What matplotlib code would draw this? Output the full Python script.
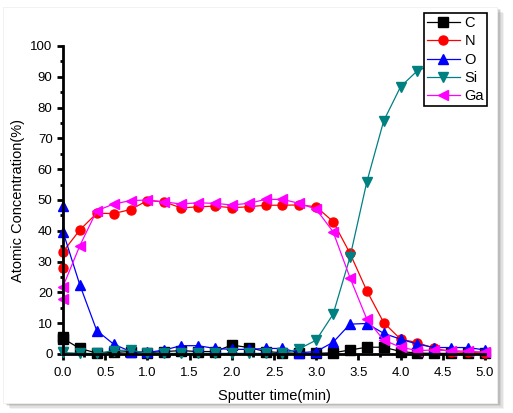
import matplotlib
matplotlib.use("Agg")
import matplotlib.pyplot as plt
from matplotlib.patches import Rectangle

plt.rcParams['font.family'] = ['Liberation Sans', 'DejaVu Sans']

nan = float('nan')

# sputter time (min); the first two readings are both at t = 0
time = [0.0, 0.0, 0.2, 0.4, 0.6, 0.8, 1.0, 1.2, 1.4, 1.6, 1.8, 2.0, 2.2, 2.4,
        2.6, 2.8, 3.0, 3.2, 3.4, 3.6, 3.8, 4.0, 4.2, 4.4, 4.6, 4.8, 5.0]

C = [5.6, 5.0, 1.8, 0.3, 0.5, 0.8, 0.4, 0.8, 1.1, 0.8, 0.8, 2.9, 2.1, 0.8,
     0.4, 0.2, 0.2, 0.4, 1.3, 2.2, 2.2, 0.8, 0.3, 0.2, 0.2, 0.2, 0.2]
N = [27.8, 33.2, 40.3, 45.7, 45.6, 46.9, 49.8, 49.4, 47.4, 47.8, 48.0, 47.5,
     47.8, 48.3, 48.3, 48.4, 47.8, 43.0, 32.7, 20.5, 10.2, 4.8, 3.7, 1.8,
     0.8, 0.5, 0.3]
O = [48.0, 39.7, 22.4, 7.6, 3.2, 0.8, 0.5, 1.3, 2.7, 2.7, 1.8, 1.5, 1.5, 1.8,
     1.8, 0.4, 0.8, 3.8, 9.7, 9.9, 6.7, 4.8, 3.2, 2.1, 2.1, 2.1, 1.3]
# Si beyond 4.2 min sits behind the legend
Si = [0.5, 0.5, 0.2, 0.2, 1.1, 1.3, 0.2, 0.2, 0.2, 0.2, 0.2, 0.2, 0.2, 0.2,
      0.2, 1.7, 4.5, 12.9, 31.4, 55.9, 75.7, 86.8, 92.0, 94.0, 95.0, 95.5, nan]
Ga = [17.9, 21.9, 35.2, 46.5, 48.7, 49.8, 50.0, 49.4, 48.7, 49.1, 48.9, 48.4,
      48.9, 50.2, 50.2, 48.9, 47.0, 39.7, 24.8, 11.3, 4.5, 2.2, 1.1, 1.3, 1.1,
      0.9, 0.6]

series = [("C", C, 's', 'black'),
          ("N", N, 'o', 'red'),
          ("O", O, '^', 'blue'),
          ("Si", Si, 'v', '#008080'),
          ("Ga", Ga, '<', 'magenta')]

fig = plt.figure(figsize=(5.13, 4.13), dpi=100)
fig.patch.set_facecolor('white')

# card with soft shadow
W, H = 513.0, 413.0
for i, a in enumerate([0.10, 0.14, 0.18, 0.24]):
    off = 6 - i * 1.3
    fig.patches.append(Rectangle(((4 + off) / W, (10 - off) / H), 494 / W, 396 / H,
                                 transform=fig.transFigure, facecolor='#808080',
                                 alpha=a, edgecolor='none', zorder=-3))
fig.patches.append(Rectangle((3 / W, 10 / H), 494 / W, 396 / H,
                             transform=fig.transFigure, facecolor='white',
                             edgecolor='#f0f0f0', lw=0.6, zorder=-2))

ax = fig.add_axes([63 / W, 1 - 354 / H, 422 / W, 308 / H])
ax.set_facecolor('none')

for name, vals, mk, col in series:
    ax.plot(time, vals, color=col, marker=mk, markersize=6.5, lw=0.9,
            label=name, clip_on=False)

ax.set_xlim(0, 5)
ax.set_ylim(0, 100)
ax.set_xticks([0.0, 0.5, 1.0, 1.5, 2.0, 2.5, 3.0, 3.5, 4.0, 4.5, 5.0])
ax.set_xticks([0.25 + 0.5 * i for i in range(10)], minor=True)
ax.set_yticks(range(0, 101, 10))
ax.set_yticks(range(5, 100, 10), minor=True)
ax.xaxis.set_major_formatter(plt.FormatStrFormatter('%.1f'))

for s in ['top', 'right']:
    ax.spines[s].set_visible(False)
for s in ['left', 'bottom']:
    ax.spines[s].set_linewidth(2)
ax.tick_params(which='major', direction='out', length=4.5, width=2,
               labelsize=9.5, pad=3)
ax.tick_params(axis='x', which='major', pad=5)
ax.tick_params(which='minor', direction='out', length=2.5, width=2)

ax.set_xlabel('Sputter time(min)', fontsize=10.5, labelpad=7)
ax.set_ylabel('Atomic Concentration(%)', fontsize=10.5, labelpad=4)

leg = ax.legend(loc='upper right', bbox_to_anchor=(487 / W, 1 - 13 / H),
                bbox_transform=fig.transFigure, fancybox=False,
                framealpha=1, edgecolor='black', fontsize=10.5,
                handlelength=2.3, handletextpad=0.3, borderpad=0.2,
                labelspacing=0.3, borderaxespad=0)
leg.get_frame().set_linewidth(1.2)
leg.set_zorder(10)

fig.savefig('out.png', dpi=100)
